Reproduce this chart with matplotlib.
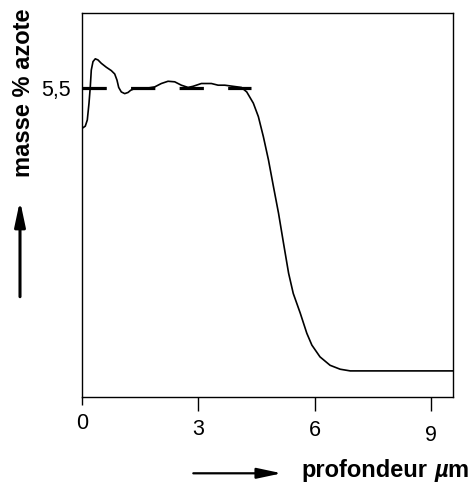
import matplotlib
matplotlib.use("Agg")
import matplotlib.pyplot as plt
from matplotlib.patches import FancyArrowPatch
from matplotlib.transforms import ScaledTranslation

plt.rcParams['font.family'] = ['Liberation Sans', 'DejaVu Sans']

# depth profile (µm) vs nitrogen mass %
depth = [0.0, 0.085, 0.137, 0.181, 0.214, 0.240, 0.284, 0.343, 0.413, 0.498,
         0.627, 0.756, 0.844, 0.903, 0.947, 1.014, 1.102, 1.187, 1.257, 1.360,
         1.618, 1.877, 2.047, 2.220, 2.393, 2.563, 2.736, 2.865, 3.080, 3.338,
         3.511, 3.684, 3.898, 4.112, 4.25, 4.42, 4.55, 4.68, 4.81, 4.94,
         5.07, 5.20, 5.33, 5.45, 5.63, 5.80, 5.93, 6.14, 6.40, 6.66, 6.92, 9.57]
azote = [4.78, 4.82, 4.93, 5.23, 5.52, 5.82, 5.97, 6.02, 6.00, 5.94,
         5.87, 5.81, 5.75, 5.64, 5.51, 5.43, 5.40, 5.42, 5.46, 5.49,
         5.49, 5.52, 5.58, 5.62, 5.61, 5.55, 5.51, 5.53, 5.58, 5.58,
         5.55, 5.55, 5.53, 5.51, 5.43, 5.23, 4.99, 4.63, 4.22, 3.74,
         3.27, 2.73, 2.20, 1.84, 1.49, 1.13, 0.92, 0.71, 0.56, 0.49, 0.46, 0.46]

ref_level = 5.5
ref_end = 4.37
xticks = [0, 3, 6, 9]
xlabels = ['0', '3', '6', '9']
label_drop = [0, 5.5, 7, 11.5]   # px, labels are staggered downwards

fig = plt.figure(figsize=(4.75, 4.86), dpi=100)
ax = fig.add_axes([0.1726, 0.1837, 0.781, 0.790])

ax.plot(depth, azote, color='black', lw=1.2)
ax.plot([0, ref_end], [ref_level, ref_level], color='black', lw=2.3,
        dashes=(7.6, 7.6))

ax.set_xlim(0, 9.57)
ax.set_ylim(0, 6.84)

ax.set_xticks(xticks)
ax.set_xticklabels(xlabels, fontsize=15.5)
ax.tick_params(axis='x', length=10, width=1.0, pad=2, direction='out')
ax.xaxis.get_major_ticks()[0].tick1line.set_markersize(6)
for lbl, dy in zip(ax.get_xticklabels(), label_drop):
    lbl.set_transform(lbl.get_transform() +
                      ScaledTranslation(0, -dy / 100, fig.dpi_scale_trans))

ax.set_yticks([ref_level])
ax.set_yticklabels(['5,5'], fontsize=15.5)
ax.tick_params(axis='y', length=0, pad=8)

for sp in ax.spines.values():
    sp.set_linewidth(1.0)

# axis titles
fig.text(0.0505, 0.809, 'masse % azote', rotation=90, ha='center', va='center',
         fontsize=17, fontweight='bold')

t1 = fig.text(301.7 / 475, 1 - 482 / 486, 'profondeur', fontsize=17,
              fontweight='bold', ha='left', va='bottom')
t2 = ax.annotate('µ', xy=(1, 0), xycoords=t1, xytext=(4.7, 0),
                 textcoords='offset points', fontsize=17, fontweight='bold',
                 style='italic', ha='left', va='bottom', annotation_clip=False)
t3 = ax.annotate('m', xy=(1, 0), xycoords=t2, fontsize=17, fontweight='bold',
                 ha='left', va='bottom', annotation_clip=False)

# arrows
up = FancyArrowPatch((20 / 475, 1 - 296.7 / 486), (20 / 475, 1 - 200.7 / 486),
                     transform=fig.transFigure, arrowstyle='-|>,head_length=15,head_width=3.2',
                     mutation_scale=1, lw=2.2, color='black', shrinkA=0, shrinkB=0)
right = FancyArrowPatch((193.3 / 475, 1 - 473.3 / 486), (281.7 / 475, 1 - 473.3 / 486),
                        transform=fig.transFigure, arrowstyle='-|>,head_length=15,head_width=3.2',
                        mutation_scale=1, lw=1.6, color='black', shrinkA=0, shrinkB=0)
fig.add_artist(up)
fig.add_artist(right)

fig.savefig('out.png', dpi=100)
